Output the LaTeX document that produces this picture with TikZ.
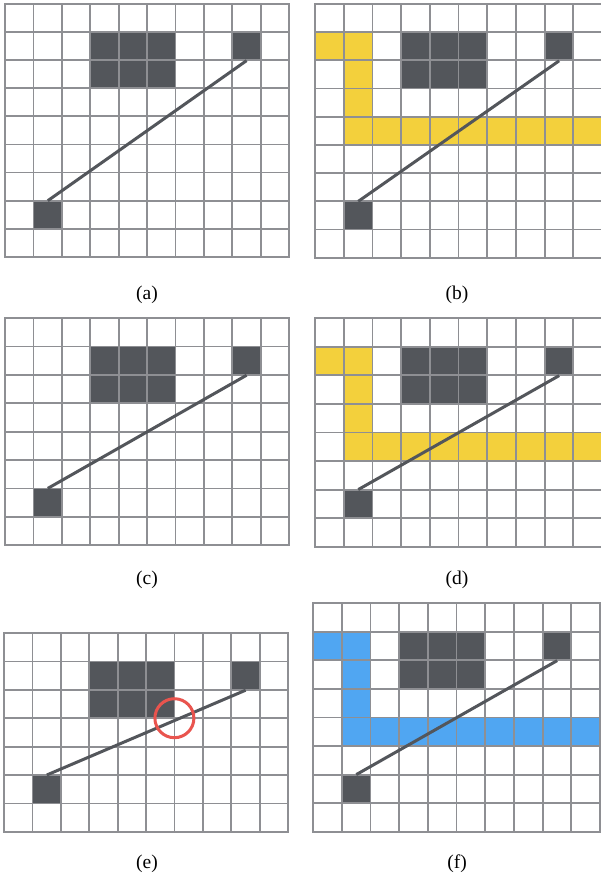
\documentclass[tikz,border=0pt]{standalone}
\usepackage{fontspec}
\setmainfont{Liberation Serif}
\definecolor{gridgray}{HTML}{8E8F93}
\definecolor{darkc}{HTML}{53565B}
\definecolor{pathyellow}{HTML}{F3D03C}
\definecolor{pathblue}{HTML}{50A6F2}
\definecolor{markred}{HTML}{E9544E}
\def\cw{28.4}
\def\ch{28.4}
\tikzset{
  gridline/.style={draw=gridgray, line width=1.8pt, line cap=rect},
  endcell/.style={rectangle, fill=darkc, draw=none, inner sep=0pt, minimum width=\cw pt, minimum height=\ch pt, anchor=north west},
  segline/.style={draw=darkc, line width=3pt},
  caption/.style={font=\fontsize{19.5}{22}\selectfont, inner sep=0pt},
  marker/.style={circle, draw=markred, line width=3pt, inner sep=0pt, minimum size=39pt}
}
\newcommand{\pathcells}[1]{%
  \fill[#1] (0,\ch) rectangle (2*\cw,2*\ch);
  \fill[#1] (\cw,2*\ch) rectangle (2*\cw,4*\ch);
  \fill[#1] (\cw,4*\ch) rectangle (10*\cw,5*\ch);}
\newcommand{\gridpanel}[6]{%
  \begin{scope}[shift={(#2,#3)}]
    #6
    \fill[darkc] (3*\cw,1*\ch) rectangle (6*\cw,3*\ch);
    \node[endcell] (#1tr) at (8*\cw,1*\ch) {};
    \node[endcell] (#1bl) at (1*\cw,#5*\ch) {};
    \foreach \i in {0,...,10} \draw[gridline] (\i*\cw,0) -- (\i*\cw,#4*\ch);
    \foreach \j in {0,...,#4} \draw[gridline] (0,\j*\ch) -- (10*\cw,\j*\ch);
    \draw[segline] (#1tr.south) -- (#1bl.north);
  \end{scope}}
\begin{document}
\begin{tikzpicture}[x=1pt,y=-1pt]
  \useasboundingbox (0,0) rectangle (600,882);
  \fill[white] (0,0) rectangle (600,882);
  \def\cw{28.4}
  \def\ch{28.1}
  \gridpanel{a}{5}{4}{9}{7}{}
  \def\ch{28.4}
  \gridpanel{c}{5}{318}{8}{6}{}
  \gridpanel{e}{4}{633}{7}{5}{}
  \node[marker] (emark) at (4+6*\cw,633+3*\ch) {};
  \def\cw{28.7}
  \def\ch{28.2}
  \gridpanel{b}{315}{4}{9}{7}{\pathcells{pathyellow}}
  \def\ch{28.6}
  \gridpanel{d}{315}{318}{8}{6}{\pathcells{pathyellow}}
  \gridpanel{f}{313}{603}{8}{6}{\pathcells{pathblue}}
  \node[caption] (la) at (147,295) {(a)};
  \node[caption] (lb) at (457,295) {(b)};
  \node[caption] (lc) at (147,580) {(c)};
  \node[caption] (ld) at (457,580) {(d)};
  \node[caption] (le) at (147,864) {(e)};
  \node[caption] (lf) at (457,864) {(f)};
\end{tikzpicture}
\end{document}
